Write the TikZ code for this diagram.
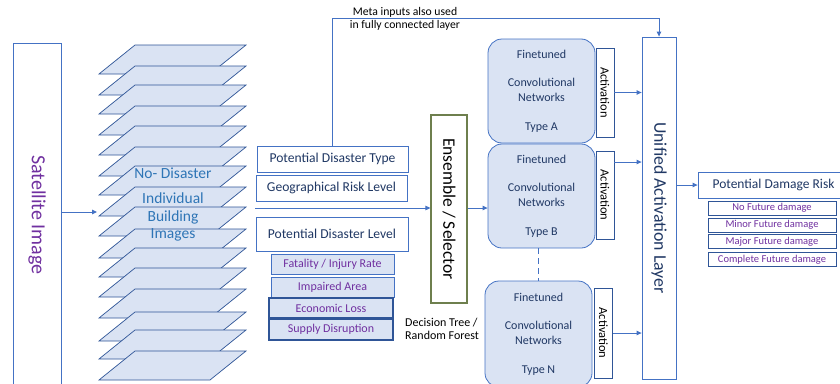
\documentclass[tikz,border=0pt]{standalone}
\usepackage{fontspec}
\usepackage{graphicx}
\setmainfont{Carlito}
\usetikzlibrary{arrows.meta}
\definecolor{bstroke}{HTML}{4472C4}
\definecolor{dstroke}{HTML}{2F5597}
\definecolor{lfill}{HTML}{DAE3F3}
\definecolor{purp}{HTML}{7030A0}
\definecolor{navy}{HTML}{203864}
\definecolor{txtblue}{HTML}{2E75B6}
\definecolor{ensg}{HTML}{6E7F4E}
\newcommand{\fsz}[1]{\fontsize{#1}{#1}\selectfont}
\begin{document}
\begin{tikzpicture}[x=1pt,y=-1pt,
  box/.style={draw=bstroke, line width=0.8pt, fill=white, inner sep=0pt, text=navy},
  subbox/.style={draw=bstroke, line width=0.8pt, fill=lfill, inner sep=0pt, text=purp, font=\fsz{12}},
  subboxd/.style={subbox, draw=dstroke, line width=1.1pt},
  dmgbox/.style={draw=dstroke, line width=0.7pt, fill=white, inner sep=0pt, text=purp, font=\fsz{10.5}, minimum width=128pt, minimum height=14pt},
  cnn/.style={draw=bstroke, line width=0.8pt, fill=lfill, rounded corners=14pt, inner sep=0pt, text=navy, font=\fsz{12}, align=center, minimum width=107pt},
  actbox/.style={draw=dstroke, line width=0.8pt, fill=white, inner sep=0pt, font=\fsz{12.5}, minimum width=18pt},
  arr/.style={draw=bstroke, line width=1pt, -{Triangle[length=5pt,width=4.5pt]}},
  thin/.style={draw=bstroke, line width=0.8pt},
  sheet/.style={draw=dstroke, line width=0.7pt, fill=lfill},
  stxt/.style={text=txtblue, font=\fsz{15.5}, inner sep=0pt}
]
\useasboundingbox (0,0) rectangle (840,383);

% satellite image
\node[box, text=purp, minimum width=48pt, minimum height=344pt, font=\fsz{20}] (sat) at (37,215) {\rotatebox{-90}{Satellite Image}};

% stack of building images
\foreach \t in {45,66,85,106,126,147,166,187,207,229,248,268,289,312,330,351}{
  \draw[sheet] (135,\t) -- (246,\t) -- (210,\t+29) -- (99,\t+29) -- cycle;
}
\node[stxt] (t1) at (173,173) {No- Disaster};
\node[stxt] (t2) at (173,198) {Individual};
\node[stxt] (t3) at (173,217) {Building};
\node[stxt] (t4) at (173,235) {Images};
\coordinate (stkin) at (97,212);
\coordinate (stkout) at (255,208);
\draw[arr] (sat.east |- stkin) -- (stkin);

% meta boxes
\node[box, minimum width=151pt, minimum height=26pt, font=\fsz{13.6}] (pdt) at (332.5,159) {Potential Disaster Type};
\node[box, minimum width=151pt, minimum height=26pt, font=\fsz{13.6}] (grl) at (331.5,188) {Geographical Risk Level};
\node[box, minimum width=152pt, minimum height=34pt, font=\fsz{13.6}] (pdl) at (332,234) {Potential Disaster Level};
\node[subbox, minimum width=123pt, minimum height=20pt] (fat) at (332.5,264) {Fatality / Injury Rate};
\node[subbox, minimum width=123pt, minimum height=20pt] (imp) at (332.5,287) {Impaired Area};
\node[subboxd, minimum width=124pt, minimum height=20pt] (eco) at (331,308) {Economic Loss};
\node[subboxd, minimum width=124pt, minimum height=21pt] (sup) at (331,329.5) {Supply Disruption};

% ensemble
\node[draw=ensg, line width=1.2pt, fill=white, inner sep=0pt, minimum width=36pt, minimum height=188pt, font=\fsz{17.5}] (ens) at (449,209) {\rotatebox{-90}{Ensemble / Selector}};
\node[anchor=west, align=left, font=\fsz{12}, inner sep=0pt] (dt) at (405,328.5) {Decision Tree /\\[1pt]Random Forest};
\draw[arr] (stkout) -- (stkout -| ens.west);

% CNNs
\node[cnn, minimum height=104pt] (cnnA) at (541.5,91) {Finetuned\\[16pt]Convolutional\\[3pt]Networks\\[17pt]Type A};
\node[cnn, minimum height=104pt] (cnnB) at (541.5,196) {Finetuned\\[16pt]Convolutional\\[3pt]Networks\\[17pt]Type B};
\node[cnn, minimum height=106pt] (cnnN) at (538.5,334) {Finetuned\\[16pt]Convolutional\\[3pt]Networks\\[17pt]Type N};
\draw[arr] (ens.east |- stkout) -- (stkout -| cnnB.west);
\draw[thin, dash pattern=on 6pt off 4pt] (cnnN.north |- cnnB.south) -- (cnnN.north);

% activations
\node[actbox, minimum height=89pt] (actA) at (605,92.5) {\rotatebox{-90}{Activation}};
\node[actbox, minimum height=88pt] (actB) at (605,195) {\rotatebox{-90}{Activation}};
\node[actbox, minimum height=90pt] (actN) at (603.5,333) {\rotatebox{-90}{Activation}};

% unified layer
\node[box, minimum width=34pt, minimum height=342pt, font=\fsz{17.8}] (uni) at (659,208) {\rotatebox{-90}{Unified Activation Layer}};
\coordinate (bArr) at (0,162);
\draw[arr] (actA.east) -- (actA.east -| uni.west);
\draw[arr] (actB.east |- bArr) -- (uni.west |- bArr);
\draw[arr] (actN.east) -- (actN.east -| uni.west);

% meta connector
\coordinate (mtop) at (0,18);
\draw[arr] (pdt.north) |- (uni.north |- mtop) -- (uni.north);
\node[align=center, font=\fsz{11.7}, inner sep=0pt] (meta) at (405,19) {Meta inputs also used\\[2pt]in fully connected layer};

% output
\node[box, minimum width=151pt, minimum height=26pt, font=\fsz{13.5}] (pdr) at (773.5,185) {Potential Damage Risk};
\draw[arr] (uni.east |- pdr.west) -- (pdr.west);
\node[dmgbox] (d1) at (772,208) {No Future damage};
\node[dmgbox] (d2) at (772,225) {Minor Future damage};
\node[dmgbox] (d3) at (772,241.5) {Major Future damage};
\node[dmgbox] (d4) at (772,259.5) {Complete Future damage};
\end{tikzpicture}
\end{document}
